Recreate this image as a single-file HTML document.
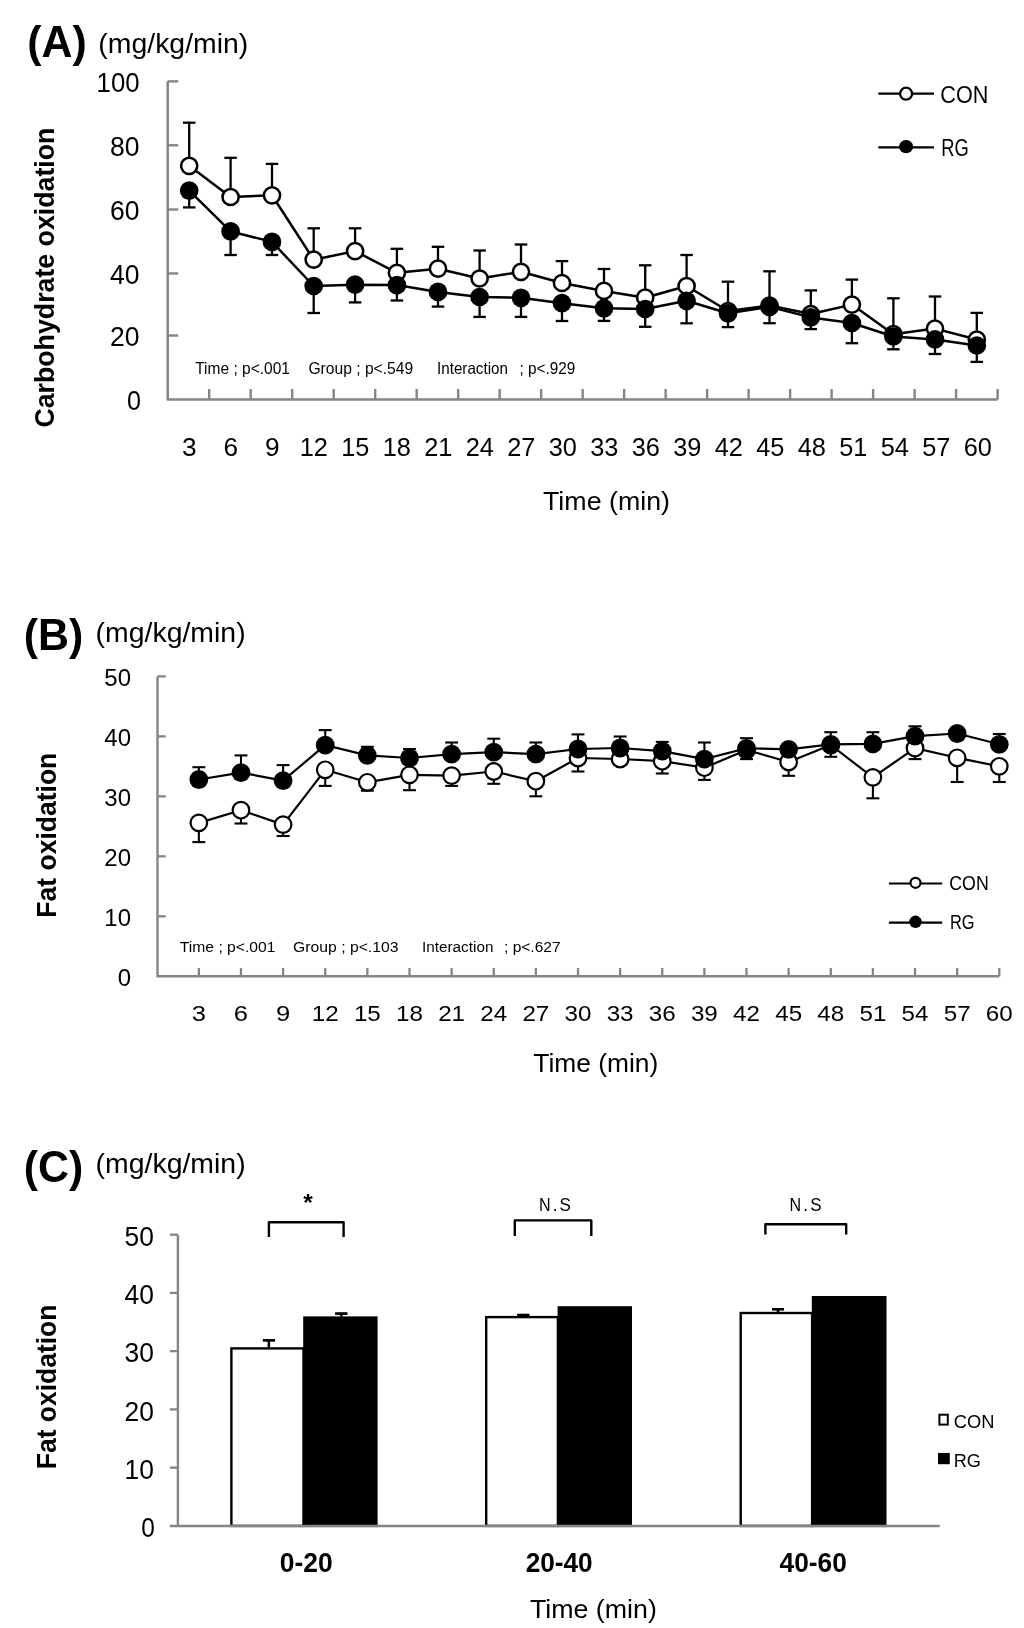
<!DOCTYPE html>
<html><head><meta charset="utf-8"><style>
html,body{margin:0;padding:0;background:#fff;}
body{width:1024px;height:1628px;overflow:hidden;}
svg{display:block;will-change:transform;}
text{font-family:"Liberation Sans", sans-serif;fill:#000;}
</style></head><body>
<svg width="1024" height="1628" viewBox="0 0 1024 1628">
<rect x="0" y="0" width="1024" height="1628" fill="#fff"/>
<text x="27.3" y="56.8" font-size="43.5" font-weight="bold" textLength="59.5" lengthAdjust="spacingAndGlyphs">(A)</text>
<text x="98.3" y="53.4" font-size="27.5" textLength="150" lengthAdjust="spacingAndGlyphs">(mg/kg/min)</text>
<polyline points="167.7,81.2 167.7,399.5 997.6,399.5" fill="none" stroke="#858585" stroke-width="2.5" stroke-linejoin="round"/>
<text x="141" y="409.75" font-size="27.3" text-anchor="end" textLength="14" lengthAdjust="spacingAndGlyphs">0</text>
<line x1="167.7" y1="335.5" x2="178.2" y2="335.5" stroke="#858585" stroke-width="2.4" stroke-linecap="butt"/>
<text x="139.6" y="345.8" font-size="27.3" text-anchor="end" textLength="29.5" lengthAdjust="spacingAndGlyphs">20</text>
<line x1="167.7" y1="273.45" x2="178.2" y2="273.45" stroke="#858585" stroke-width="2.4" stroke-linecap="butt"/>
<text x="139.6" y="283.75" font-size="27.3" text-anchor="end" textLength="29.5" lengthAdjust="spacingAndGlyphs">40</text>
<line x1="167.7" y1="209.5" x2="178.2" y2="209.5" stroke="#858585" stroke-width="2.4" stroke-linecap="butt"/>
<text x="139.6" y="219.8" font-size="27.3" text-anchor="end" textLength="29.5" lengthAdjust="spacingAndGlyphs">60</text>
<line x1="167.7" y1="145.25" x2="178.2" y2="145.25" stroke="#858585" stroke-width="2.4" stroke-linecap="butt"/>
<text x="139.6" y="155.55" font-size="27.3" text-anchor="end" textLength="29.5" lengthAdjust="spacingAndGlyphs">80</text>
<line x1="167.7" y1="81.4" x2="178.2" y2="81.4" stroke="#858585" stroke-width="2.4" stroke-linecap="butt"/>
<text x="139.6" y="91.7" font-size="27.3" text-anchor="end" textLength="43.0" lengthAdjust="spacingAndGlyphs">100</text>
<line x1="209.195" y1="399.5" x2="209.195" y2="389.0" stroke="#858585" stroke-width="2.4" stroke-linecap="butt"/>
<line x1="250.69" y1="399.5" x2="250.69" y2="389.0" stroke="#858585" stroke-width="2.4" stroke-linecap="butt"/>
<line x1="292.18499999999995" y1="399.5" x2="292.18499999999995" y2="389.0" stroke="#858585" stroke-width="2.4" stroke-linecap="butt"/>
<line x1="333.67999999999995" y1="399.5" x2="333.67999999999995" y2="389.0" stroke="#858585" stroke-width="2.4" stroke-linecap="butt"/>
<line x1="375.17499999999995" y1="399.5" x2="375.17499999999995" y2="389.0" stroke="#858585" stroke-width="2.4" stroke-linecap="butt"/>
<line x1="416.66999999999996" y1="399.5" x2="416.66999999999996" y2="389.0" stroke="#858585" stroke-width="2.4" stroke-linecap="butt"/>
<line x1="458.16499999999996" y1="399.5" x2="458.16499999999996" y2="389.0" stroke="#858585" stroke-width="2.4" stroke-linecap="butt"/>
<line x1="499.65999999999997" y1="399.5" x2="499.65999999999997" y2="389.0" stroke="#858585" stroke-width="2.4" stroke-linecap="butt"/>
<line x1="541.155" y1="399.5" x2="541.155" y2="389.0" stroke="#858585" stroke-width="2.4" stroke-linecap="butt"/>
<line x1="582.65" y1="399.5" x2="582.65" y2="389.0" stroke="#858585" stroke-width="2.4" stroke-linecap="butt"/>
<line x1="624.145" y1="399.5" x2="624.145" y2="389.0" stroke="#858585" stroke-width="2.4" stroke-linecap="butt"/>
<line x1="665.6399999999999" y1="399.5" x2="665.6399999999999" y2="389.0" stroke="#858585" stroke-width="2.4" stroke-linecap="butt"/>
<line x1="707.135" y1="399.5" x2="707.135" y2="389.0" stroke="#858585" stroke-width="2.4" stroke-linecap="butt"/>
<line x1="748.6299999999999" y1="399.5" x2="748.6299999999999" y2="389.0" stroke="#858585" stroke-width="2.4" stroke-linecap="butt"/>
<line x1="790.125" y1="399.5" x2="790.125" y2="389.0" stroke="#858585" stroke-width="2.4" stroke-linecap="butt"/>
<line x1="831.6199999999999" y1="399.5" x2="831.6199999999999" y2="389.0" stroke="#858585" stroke-width="2.4" stroke-linecap="butt"/>
<line x1="873.115" y1="399.5" x2="873.115" y2="389.0" stroke="#858585" stroke-width="2.4" stroke-linecap="butt"/>
<line x1="914.6099999999999" y1="399.5" x2="914.6099999999999" y2="389.0" stroke="#858585" stroke-width="2.4" stroke-linecap="butt"/>
<line x1="956.105" y1="399.5" x2="956.105" y2="389.0" stroke="#858585" stroke-width="2.4" stroke-linecap="butt"/>
<line x1="997.5999999999999" y1="399.5" x2="997.5999999999999" y2="389.0" stroke="#858585" stroke-width="2.4" stroke-linecap="butt"/>
<text x="189.3475" y="456.3" font-size="26.5" text-anchor="middle" textLength="14.6" lengthAdjust="spacingAndGlyphs">3</text>
<text x="230.8425" y="456.3" font-size="26.5" text-anchor="middle" textLength="14.6" lengthAdjust="spacingAndGlyphs">6</text>
<text x="272.3375" y="456.3" font-size="26.5" text-anchor="middle" textLength="14.6" lengthAdjust="spacingAndGlyphs">9</text>
<text x="313.8325" y="456.3" font-size="26.5" text-anchor="middle" textLength="28.2" lengthAdjust="spacingAndGlyphs">12</text>
<text x="355.3275" y="456.3" font-size="26.5" text-anchor="middle" textLength="28.2" lengthAdjust="spacingAndGlyphs">15</text>
<text x="396.8225" y="456.3" font-size="26.5" text-anchor="middle" textLength="28.2" lengthAdjust="spacingAndGlyphs">18</text>
<text x="438.31749999999994" y="456.3" font-size="26.5" text-anchor="middle" textLength="28.2" lengthAdjust="spacingAndGlyphs">21</text>
<text x="479.81249999999994" y="456.3" font-size="26.5" text-anchor="middle" textLength="28.2" lengthAdjust="spacingAndGlyphs">24</text>
<text x="521.3075" y="456.3" font-size="26.5" text-anchor="middle" textLength="28.2" lengthAdjust="spacingAndGlyphs">27</text>
<text x="562.8024999999999" y="456.3" font-size="26.5" text-anchor="middle" textLength="28.2" lengthAdjust="spacingAndGlyphs">30</text>
<text x="604.2975" y="456.3" font-size="26.5" text-anchor="middle" textLength="28.2" lengthAdjust="spacingAndGlyphs">33</text>
<text x="645.7924999999999" y="456.3" font-size="26.5" text-anchor="middle" textLength="28.2" lengthAdjust="spacingAndGlyphs">36</text>
<text x="687.2875" y="456.3" font-size="26.5" text-anchor="middle" textLength="28.2" lengthAdjust="spacingAndGlyphs">39</text>
<text x="728.7824999999999" y="456.3" font-size="26.5" text-anchor="middle" textLength="28.2" lengthAdjust="spacingAndGlyphs">42</text>
<text x="770.2775" y="456.3" font-size="26.5" text-anchor="middle" textLength="28.2" lengthAdjust="spacingAndGlyphs">45</text>
<text x="811.7724999999999" y="456.3" font-size="26.5" text-anchor="middle" textLength="28.2" lengthAdjust="spacingAndGlyphs">48</text>
<text x="853.2674999999998" y="456.3" font-size="26.5" text-anchor="middle" textLength="28.2" lengthAdjust="spacingAndGlyphs">51</text>
<text x="894.7624999999999" y="456.3" font-size="26.5" text-anchor="middle" textLength="28.2" lengthAdjust="spacingAndGlyphs">54</text>
<text x="936.2574999999998" y="456.3" font-size="26.5" text-anchor="middle" textLength="28.2" lengthAdjust="spacingAndGlyphs">57</text>
<text x="977.7524999999999" y="456.3" font-size="26.5" text-anchor="middle" textLength="28.2" lengthAdjust="spacingAndGlyphs">60</text>
<text x="543" y="509.7" font-size="26" textLength="127" lengthAdjust="spacingAndGlyphs">Time (min)</text>
<text transform="translate(54.4,427.6) rotate(-90)" font-size="27.5" font-weight="bold" textLength="300" lengthAdjust="spacingAndGlyphs">Carbohydrate  oxidation</text>
<text x="195.2" y="374.1" font-size="16.5" textLength="94.7" lengthAdjust="spacingAndGlyphs">Time ; p&lt;.001</text>
<text x="308.4" y="374.1" font-size="16.5" textLength="104.8" lengthAdjust="spacingAndGlyphs">Group ; p&lt;.549</text>
<text x="437" y="374.1" font-size="16.5" textLength="70.9" lengthAdjust="spacingAndGlyphs">Interaction</text>
<text x="519.6" y="374.1" font-size="16.5" textLength="55.7" lengthAdjust="spacingAndGlyphs">; p&lt;.929</text>
<polyline points="189.2,165.8 230.6,197 272,195.3 313.7,259.7 355.1,251.1 396.9,272.8 438,268.7 479.6,278.5 521,271.8 562,283 604,290.9 645.2,297.7 686.6,286 728,311 769.5,305.5 810.8,314 851.9,304.6 893.4,334.2 935,328.6 976.8,339.5" fill="none" stroke="#000" stroke-width="2.5" stroke-linejoin="round"/>
<line x1="189.2" y1="165.8" x2="189.2" y2="122.7" stroke="#000" stroke-width="2.3" stroke-linecap="butt"/>
<line x1="182.95" y1="122.7" x2="195.45" y2="122.7" stroke="#000" stroke-width="2.3" stroke-linecap="butt"/>
<line x1="230.6" y1="197" x2="230.6" y2="157.8" stroke="#000" stroke-width="2.3" stroke-linecap="butt"/>
<line x1="224.35" y1="157.8" x2="236.85" y2="157.8" stroke="#000" stroke-width="2.3" stroke-linecap="butt"/>
<line x1="272" y1="195.3" x2="272" y2="163.9" stroke="#000" stroke-width="2.3" stroke-linecap="butt"/>
<line x1="265.75" y1="163.9" x2="278.25" y2="163.9" stroke="#000" stroke-width="2.3" stroke-linecap="butt"/>
<line x1="313.7" y1="259.7" x2="313.7" y2="228.3" stroke="#000" stroke-width="2.3" stroke-linecap="butt"/>
<line x1="307.45" y1="228.3" x2="319.95" y2="228.3" stroke="#000" stroke-width="2.3" stroke-linecap="butt"/>
<line x1="355.1" y1="251.1" x2="355.1" y2="228.3" stroke="#000" stroke-width="2.3" stroke-linecap="butt"/>
<line x1="348.85" y1="228.3" x2="361.35" y2="228.3" stroke="#000" stroke-width="2.3" stroke-linecap="butt"/>
<line x1="396.9" y1="272.8" x2="396.9" y2="248.8" stroke="#000" stroke-width="2.3" stroke-linecap="butt"/>
<line x1="390.65" y1="248.8" x2="403.15" y2="248.8" stroke="#000" stroke-width="2.3" stroke-linecap="butt"/>
<line x1="438" y1="268.7" x2="438" y2="246.8" stroke="#000" stroke-width="2.3" stroke-linecap="butt"/>
<line x1="431.75" y1="246.8" x2="444.25" y2="246.8" stroke="#000" stroke-width="2.3" stroke-linecap="butt"/>
<line x1="479.6" y1="278.5" x2="479.6" y2="250.5" stroke="#000" stroke-width="2.3" stroke-linecap="butt"/>
<line x1="473.35" y1="250.5" x2="485.85" y2="250.5" stroke="#000" stroke-width="2.3" stroke-linecap="butt"/>
<line x1="521" y1="271.8" x2="521" y2="244.5" stroke="#000" stroke-width="2.3" stroke-linecap="butt"/>
<line x1="514.75" y1="244.5" x2="527.25" y2="244.5" stroke="#000" stroke-width="2.3" stroke-linecap="butt"/>
<line x1="562" y1="283" x2="562" y2="261.1" stroke="#000" stroke-width="2.3" stroke-linecap="butt"/>
<line x1="555.75" y1="261.1" x2="568.25" y2="261.1" stroke="#000" stroke-width="2.3" stroke-linecap="butt"/>
<line x1="604" y1="290.9" x2="604" y2="269" stroke="#000" stroke-width="2.3" stroke-linecap="butt"/>
<line x1="597.75" y1="269" x2="610.25" y2="269" stroke="#000" stroke-width="2.3" stroke-linecap="butt"/>
<line x1="645.2" y1="297.7" x2="645.2" y2="265.3" stroke="#000" stroke-width="2.3" stroke-linecap="butt"/>
<line x1="638.95" y1="265.3" x2="651.45" y2="265.3" stroke="#000" stroke-width="2.3" stroke-linecap="butt"/>
<line x1="686.6" y1="286" x2="686.6" y2="255" stroke="#000" stroke-width="2.3" stroke-linecap="butt"/>
<line x1="680.35" y1="255" x2="692.85" y2="255" stroke="#000" stroke-width="2.3" stroke-linecap="butt"/>
<line x1="728" y1="311" x2="728" y2="281.7" stroke="#000" stroke-width="2.3" stroke-linecap="butt"/>
<line x1="721.75" y1="281.7" x2="734.25" y2="281.7" stroke="#000" stroke-width="2.3" stroke-linecap="butt"/>
<line x1="769.5" y1="305.5" x2="769.5" y2="271.3" stroke="#000" stroke-width="2.3" stroke-linecap="butt"/>
<line x1="763.25" y1="271.3" x2="775.75" y2="271.3" stroke="#000" stroke-width="2.3" stroke-linecap="butt"/>
<line x1="810.8" y1="314" x2="810.8" y2="290.4" stroke="#000" stroke-width="2.3" stroke-linecap="butt"/>
<line x1="804.55" y1="290.4" x2="817.05" y2="290.4" stroke="#000" stroke-width="2.3" stroke-linecap="butt"/>
<line x1="851.9" y1="304.6" x2="851.9" y2="279.6" stroke="#000" stroke-width="2.3" stroke-linecap="butt"/>
<line x1="845.65" y1="279.6" x2="858.15" y2="279.6" stroke="#000" stroke-width="2.3" stroke-linecap="butt"/>
<line x1="893.4" y1="334.2" x2="893.4" y2="298.3" stroke="#000" stroke-width="2.3" stroke-linecap="butt"/>
<line x1="887.15" y1="298.3" x2="899.65" y2="298.3" stroke="#000" stroke-width="2.3" stroke-linecap="butt"/>
<line x1="935" y1="328.6" x2="935" y2="296.5" stroke="#000" stroke-width="2.3" stroke-linecap="butt"/>
<line x1="928.75" y1="296.5" x2="941.25" y2="296.5" stroke="#000" stroke-width="2.3" stroke-linecap="butt"/>
<line x1="976.8" y1="339.5" x2="976.8" y2="312.9" stroke="#000" stroke-width="2.3" stroke-linecap="butt"/>
<line x1="970.55" y1="312.9" x2="983.05" y2="312.9" stroke="#000" stroke-width="2.3" stroke-linecap="butt"/>
<circle cx="189.2" cy="165.8" r="8.1" fill="#fff" stroke="#000" stroke-width="2.5"/>
<circle cx="230.6" cy="197" r="8.1" fill="#fff" stroke="#000" stroke-width="2.5"/>
<circle cx="272" cy="195.3" r="8.1" fill="#fff" stroke="#000" stroke-width="2.5"/>
<circle cx="313.7" cy="259.7" r="8.1" fill="#fff" stroke="#000" stroke-width="2.5"/>
<circle cx="355.1" cy="251.1" r="8.1" fill="#fff" stroke="#000" stroke-width="2.5"/>
<circle cx="396.9" cy="272.8" r="8.1" fill="#fff" stroke="#000" stroke-width="2.5"/>
<circle cx="438" cy="268.7" r="8.1" fill="#fff" stroke="#000" stroke-width="2.5"/>
<circle cx="479.6" cy="278.5" r="8.1" fill="#fff" stroke="#000" stroke-width="2.5"/>
<circle cx="521" cy="271.8" r="8.1" fill="#fff" stroke="#000" stroke-width="2.5"/>
<circle cx="562" cy="283" r="8.1" fill="#fff" stroke="#000" stroke-width="2.5"/>
<circle cx="604" cy="290.9" r="8.1" fill="#fff" stroke="#000" stroke-width="2.5"/>
<circle cx="645.2" cy="297.7" r="8.1" fill="#fff" stroke="#000" stroke-width="2.5"/>
<circle cx="686.6" cy="286" r="8.1" fill="#fff" stroke="#000" stroke-width="2.5"/>
<circle cx="728" cy="311" r="8.1" fill="#fff" stroke="#000" stroke-width="2.5"/>
<circle cx="769.5" cy="305.5" r="8.1" fill="#fff" stroke="#000" stroke-width="2.5"/>
<circle cx="810.8" cy="314" r="8.1" fill="#fff" stroke="#000" stroke-width="2.5"/>
<circle cx="851.9" cy="304.6" r="8.1" fill="#fff" stroke="#000" stroke-width="2.5"/>
<circle cx="893.4" cy="334.2" r="8.1" fill="#fff" stroke="#000" stroke-width="2.5"/>
<circle cx="935" cy="328.6" r="8.1" fill="#fff" stroke="#000" stroke-width="2.5"/>
<circle cx="976.8" cy="339.5" r="8.1" fill="#fff" stroke="#000" stroke-width="2.5"/>
<polyline points="189.2,190.6 230.6,231.4 272,241.9 313.7,286 355.1,284.7 396.9,285.1 438,291.9 479.6,297 521,297.8 562,303.2 604,308.3 645.2,309 686.6,300.8 728,313.3 769.5,306.9 810.8,317.4 851.9,323 893.4,336.5 935,339.4 976.8,345.5" fill="none" stroke="#000" stroke-width="2.5" stroke-linejoin="round"/>
<line x1="189.2" y1="190.6" x2="189.2" y2="207.4" stroke="#000" stroke-width="2.3" stroke-linecap="butt"/>
<line x1="182.95" y1="207.4" x2="195.45" y2="207.4" stroke="#000" stroke-width="2.3" stroke-linecap="butt"/>
<line x1="230.6" y1="231.4" x2="230.6" y2="255" stroke="#000" stroke-width="2.3" stroke-linecap="butt"/>
<line x1="224.35" y1="255" x2="236.85" y2="255" stroke="#000" stroke-width="2.3" stroke-linecap="butt"/>
<line x1="272" y1="241.9" x2="272" y2="255" stroke="#000" stroke-width="2.3" stroke-linecap="butt"/>
<line x1="265.75" y1="255" x2="278.25" y2="255" stroke="#000" stroke-width="2.3" stroke-linecap="butt"/>
<line x1="313.7" y1="286" x2="313.7" y2="313" stroke="#000" stroke-width="2.3" stroke-linecap="butt"/>
<line x1="307.45" y1="313" x2="319.95" y2="313" stroke="#000" stroke-width="2.3" stroke-linecap="butt"/>
<line x1="355.1" y1="284.7" x2="355.1" y2="302.4" stroke="#000" stroke-width="2.3" stroke-linecap="butt"/>
<line x1="348.85" y1="302.4" x2="361.35" y2="302.4" stroke="#000" stroke-width="2.3" stroke-linecap="butt"/>
<line x1="396.9" y1="285.1" x2="396.9" y2="300.5" stroke="#000" stroke-width="2.3" stroke-linecap="butt"/>
<line x1="390.65" y1="300.5" x2="403.15" y2="300.5" stroke="#000" stroke-width="2.3" stroke-linecap="butt"/>
<line x1="438" y1="291.9" x2="438" y2="306.6" stroke="#000" stroke-width="2.3" stroke-linecap="butt"/>
<line x1="431.75" y1="306.6" x2="444.25" y2="306.6" stroke="#000" stroke-width="2.3" stroke-linecap="butt"/>
<line x1="479.6" y1="297" x2="479.6" y2="316.9" stroke="#000" stroke-width="2.3" stroke-linecap="butt"/>
<line x1="473.35" y1="316.9" x2="485.85" y2="316.9" stroke="#000" stroke-width="2.3" stroke-linecap="butt"/>
<line x1="521" y1="297.8" x2="521" y2="316.9" stroke="#000" stroke-width="2.3" stroke-linecap="butt"/>
<line x1="514.75" y1="316.9" x2="527.25" y2="316.9" stroke="#000" stroke-width="2.3" stroke-linecap="butt"/>
<line x1="562" y1="303.2" x2="562" y2="321" stroke="#000" stroke-width="2.3" stroke-linecap="butt"/>
<line x1="555.75" y1="321" x2="568.25" y2="321" stroke="#000" stroke-width="2.3" stroke-linecap="butt"/>
<line x1="604" y1="308.3" x2="604" y2="320.9" stroke="#000" stroke-width="2.3" stroke-linecap="butt"/>
<line x1="597.75" y1="320.9" x2="610.25" y2="320.9" stroke="#000" stroke-width="2.3" stroke-linecap="butt"/>
<line x1="645.2" y1="309" x2="645.2" y2="326.8" stroke="#000" stroke-width="2.3" stroke-linecap="butt"/>
<line x1="638.95" y1="326.8" x2="651.45" y2="326.8" stroke="#000" stroke-width="2.3" stroke-linecap="butt"/>
<line x1="686.6" y1="300.8" x2="686.6" y2="323.3" stroke="#000" stroke-width="2.3" stroke-linecap="butt"/>
<line x1="680.35" y1="323.3" x2="692.85" y2="323.3" stroke="#000" stroke-width="2.3" stroke-linecap="butt"/>
<line x1="728" y1="313.3" x2="728" y2="327.1" stroke="#000" stroke-width="2.3" stroke-linecap="butt"/>
<line x1="721.75" y1="327.1" x2="734.25" y2="327.1" stroke="#000" stroke-width="2.3" stroke-linecap="butt"/>
<line x1="769.5" y1="306.9" x2="769.5" y2="323.2" stroke="#000" stroke-width="2.3" stroke-linecap="butt"/>
<line x1="763.25" y1="323.2" x2="775.75" y2="323.2" stroke="#000" stroke-width="2.3" stroke-linecap="butt"/>
<line x1="810.8" y1="317.4" x2="810.8" y2="329.1" stroke="#000" stroke-width="2.3" stroke-linecap="butt"/>
<line x1="804.55" y1="329.1" x2="817.05" y2="329.1" stroke="#000" stroke-width="2.3" stroke-linecap="butt"/>
<line x1="851.9" y1="323" x2="851.9" y2="343.2" stroke="#000" stroke-width="2.3" stroke-linecap="butt"/>
<line x1="845.65" y1="343.2" x2="858.15" y2="343.2" stroke="#000" stroke-width="2.3" stroke-linecap="butt"/>
<line x1="893.4" y1="336.5" x2="893.4" y2="349.3" stroke="#000" stroke-width="2.3" stroke-linecap="butt"/>
<line x1="887.15" y1="349.3" x2="899.65" y2="349.3" stroke="#000" stroke-width="2.3" stroke-linecap="butt"/>
<line x1="935" y1="339.4" x2="935" y2="354" stroke="#000" stroke-width="2.3" stroke-linecap="butt"/>
<line x1="928.75" y1="354" x2="941.25" y2="354" stroke="#000" stroke-width="2.3" stroke-linecap="butt"/>
<line x1="976.8" y1="345.5" x2="976.8" y2="361.9" stroke="#000" stroke-width="2.3" stroke-linecap="butt"/>
<line x1="970.55" y1="361.9" x2="983.05" y2="361.9" stroke="#000" stroke-width="2.3" stroke-linecap="butt"/>
<circle cx="189.2" cy="190.6" r="9.35" fill="#000" stroke="#000" stroke-width="0"/>
<circle cx="230.6" cy="231.4" r="9.35" fill="#000" stroke="#000" stroke-width="0"/>
<circle cx="272" cy="241.9" r="9.35" fill="#000" stroke="#000" stroke-width="0"/>
<circle cx="313.7" cy="286" r="9.35" fill="#000" stroke="#000" stroke-width="0"/>
<circle cx="355.1" cy="284.7" r="9.35" fill="#000" stroke="#000" stroke-width="0"/>
<circle cx="396.9" cy="285.1" r="9.35" fill="#000" stroke="#000" stroke-width="0"/>
<circle cx="438" cy="291.9" r="9.35" fill="#000" stroke="#000" stroke-width="0"/>
<circle cx="479.6" cy="297" r="9.35" fill="#000" stroke="#000" stroke-width="0"/>
<circle cx="521" cy="297.8" r="9.35" fill="#000" stroke="#000" stroke-width="0"/>
<circle cx="562" cy="303.2" r="9.35" fill="#000" stroke="#000" stroke-width="0"/>
<circle cx="604" cy="308.3" r="9.35" fill="#000" stroke="#000" stroke-width="0"/>
<circle cx="645.2" cy="309" r="9.35" fill="#000" stroke="#000" stroke-width="0"/>
<circle cx="686.6" cy="300.8" r="9.35" fill="#000" stroke="#000" stroke-width="0"/>
<circle cx="728" cy="313.3" r="9.35" fill="#000" stroke="#000" stroke-width="0"/>
<circle cx="769.5" cy="306.9" r="9.35" fill="#000" stroke="#000" stroke-width="0"/>
<circle cx="810.8" cy="317.4" r="9.35" fill="#000" stroke="#000" stroke-width="0"/>
<circle cx="851.9" cy="323" r="9.35" fill="#000" stroke="#000" stroke-width="0"/>
<circle cx="893.4" cy="336.5" r="9.35" fill="#000" stroke="#000" stroke-width="0"/>
<circle cx="935" cy="339.4" r="9.35" fill="#000" stroke="#000" stroke-width="0"/>
<circle cx="976.8" cy="345.5" r="9.35" fill="#000" stroke="#000" stroke-width="0"/>
<line x1="878.3" y1="93.7" x2="934" y2="93.7" stroke="#000" stroke-width="2.3" stroke-linecap="butt"/>
<circle cx="906.1" cy="93.7" r="6" fill="#fff" stroke="#000" stroke-width="2.3"/>
<line x1="878.3" y1="147.4" x2="934" y2="147.4" stroke="#000" stroke-width="2.3" stroke-linecap="butt"/>
<ellipse cx="906.1" cy="146.6" rx="7.1" ry="6.6" fill="#000"/>
<text x="940.3" y="103.4" font-size="23" textLength="48" lengthAdjust="spacingAndGlyphs">CON</text>
<text x="941.3" y="155.7" font-size="23" textLength="27.5" lengthAdjust="spacingAndGlyphs">RG</text>
<text x="23.7" y="650.3" font-size="43.5" font-weight="bold" textLength="59.5" lengthAdjust="spacingAndGlyphs">(B)</text>
<text x="95.6" y="641.9" font-size="27.5" textLength="150" lengthAdjust="spacingAndGlyphs">(mg/kg/min)</text>
<polyline points="157.5,676.4 157.5,976.3 999.3,976.3" fill="none" stroke="#858585" stroke-width="2.4" stroke-linejoin="round"/>
<text x="131" y="985.5" font-size="24" text-anchor="end" textLength="13.35" lengthAdjust="spacingAndGlyphs">0</text>
<line x1="157.5" y1="916.3199999999999" x2="165.7" y2="916.3199999999999" stroke="#858585" stroke-width="2.3" stroke-linecap="butt"/>
<text x="131" y="925.52" font-size="24" text-anchor="end" textLength="26.7" lengthAdjust="spacingAndGlyphs">10</text>
<line x1="157.5" y1="856.3399999999999" x2="165.7" y2="856.3399999999999" stroke="#858585" stroke-width="2.3" stroke-linecap="butt"/>
<text x="131" y="865.54" font-size="24" text-anchor="end" textLength="26.7" lengthAdjust="spacingAndGlyphs">20</text>
<line x1="157.5" y1="796.3599999999999" x2="165.7" y2="796.3599999999999" stroke="#858585" stroke-width="2.3" stroke-linecap="butt"/>
<text x="131" y="805.56" font-size="24" text-anchor="end" textLength="26.7" lengthAdjust="spacingAndGlyphs">30</text>
<line x1="157.5" y1="736.38" x2="165.7" y2="736.38" stroke="#858585" stroke-width="2.3" stroke-linecap="butt"/>
<text x="131" y="745.58" font-size="24" text-anchor="end" textLength="26.7" lengthAdjust="spacingAndGlyphs">40</text>
<line x1="157.5" y1="676.4" x2="165.7" y2="676.4" stroke="#858585" stroke-width="2.3" stroke-linecap="butt"/>
<text x="131" y="685.6" font-size="24" text-anchor="end" textLength="26.7" lengthAdjust="spacingAndGlyphs">50</text>
<line x1="198.85" y1="976.3" x2="198.85" y2="968.0" stroke="#858585" stroke-width="2.3" stroke-linecap="butt"/>
<text x="198.85" y="1021.2" font-size="22.5" text-anchor="middle" textLength="14.2" lengthAdjust="spacingAndGlyphs">3</text>
<line x1="240.978" y1="976.3" x2="240.978" y2="968.0" stroke="#858585" stroke-width="2.3" stroke-linecap="butt"/>
<text x="240.978" y="1021.2" font-size="22.5" text-anchor="middle" textLength="14.2" lengthAdjust="spacingAndGlyphs">6</text>
<line x1="283.106" y1="976.3" x2="283.106" y2="968.0" stroke="#858585" stroke-width="2.3" stroke-linecap="butt"/>
<text x="283.106" y="1021.2" font-size="22.5" text-anchor="middle" textLength="14.2" lengthAdjust="spacingAndGlyphs">9</text>
<line x1="325.234" y1="976.3" x2="325.234" y2="968.0" stroke="#858585" stroke-width="2.3" stroke-linecap="butt"/>
<text x="325.234" y="1021.2" font-size="22.5" text-anchor="middle" textLength="26.9" lengthAdjust="spacingAndGlyphs">12</text>
<line x1="367.36199999999997" y1="976.3" x2="367.36199999999997" y2="968.0" stroke="#858585" stroke-width="2.3" stroke-linecap="butt"/>
<text x="367.36199999999997" y="1021.2" font-size="22.5" text-anchor="middle" textLength="26.9" lengthAdjust="spacingAndGlyphs">15</text>
<line x1="409.49" y1="976.3" x2="409.49" y2="968.0" stroke="#858585" stroke-width="2.3" stroke-linecap="butt"/>
<text x="409.49" y="1021.2" font-size="22.5" text-anchor="middle" textLength="26.9" lengthAdjust="spacingAndGlyphs">18</text>
<line x1="451.618" y1="976.3" x2="451.618" y2="968.0" stroke="#858585" stroke-width="2.3" stroke-linecap="butt"/>
<text x="451.618" y="1021.2" font-size="22.5" text-anchor="middle" textLength="26.9" lengthAdjust="spacingAndGlyphs">21</text>
<line x1="493.746" y1="976.3" x2="493.746" y2="968.0" stroke="#858585" stroke-width="2.3" stroke-linecap="butt"/>
<text x="493.746" y="1021.2" font-size="22.5" text-anchor="middle" textLength="26.9" lengthAdjust="spacingAndGlyphs">24</text>
<line x1="535.874" y1="976.3" x2="535.874" y2="968.0" stroke="#858585" stroke-width="2.3" stroke-linecap="butt"/>
<text x="535.874" y="1021.2" font-size="22.5" text-anchor="middle" textLength="26.9" lengthAdjust="spacingAndGlyphs">27</text>
<line x1="578.002" y1="976.3" x2="578.002" y2="968.0" stroke="#858585" stroke-width="2.3" stroke-linecap="butt"/>
<text x="578.002" y="1021.2" font-size="22.5" text-anchor="middle" textLength="26.9" lengthAdjust="spacingAndGlyphs">30</text>
<line x1="620.13" y1="976.3" x2="620.13" y2="968.0" stroke="#858585" stroke-width="2.3" stroke-linecap="butt"/>
<text x="620.13" y="1021.2" font-size="22.5" text-anchor="middle" textLength="26.9" lengthAdjust="spacingAndGlyphs">33</text>
<line x1="662.258" y1="976.3" x2="662.258" y2="968.0" stroke="#858585" stroke-width="2.3" stroke-linecap="butt"/>
<text x="662.258" y="1021.2" font-size="22.5" text-anchor="middle" textLength="26.9" lengthAdjust="spacingAndGlyphs">36</text>
<line x1="704.386" y1="976.3" x2="704.386" y2="968.0" stroke="#858585" stroke-width="2.3" stroke-linecap="butt"/>
<text x="704.386" y="1021.2" font-size="22.5" text-anchor="middle" textLength="26.9" lengthAdjust="spacingAndGlyphs">39</text>
<line x1="746.514" y1="976.3" x2="746.514" y2="968.0" stroke="#858585" stroke-width="2.3" stroke-linecap="butt"/>
<text x="746.514" y="1021.2" font-size="22.5" text-anchor="middle" textLength="26.9" lengthAdjust="spacingAndGlyphs">42</text>
<line x1="788.642" y1="976.3" x2="788.642" y2="968.0" stroke="#858585" stroke-width="2.3" stroke-linecap="butt"/>
<text x="788.642" y="1021.2" font-size="22.5" text-anchor="middle" textLength="26.9" lengthAdjust="spacingAndGlyphs">45</text>
<line x1="830.77" y1="976.3" x2="830.77" y2="968.0" stroke="#858585" stroke-width="2.3" stroke-linecap="butt"/>
<text x="830.77" y="1021.2" font-size="22.5" text-anchor="middle" textLength="26.9" lengthAdjust="spacingAndGlyphs">48</text>
<line x1="872.898" y1="976.3" x2="872.898" y2="968.0" stroke="#858585" stroke-width="2.3" stroke-linecap="butt"/>
<text x="872.898" y="1021.2" font-size="22.5" text-anchor="middle" textLength="26.9" lengthAdjust="spacingAndGlyphs">51</text>
<line x1="915.0260000000001" y1="976.3" x2="915.0260000000001" y2="968.0" stroke="#858585" stroke-width="2.3" stroke-linecap="butt"/>
<text x="915.0260000000001" y="1021.2" font-size="22.5" text-anchor="middle" textLength="26.9" lengthAdjust="spacingAndGlyphs">54</text>
<line x1="957.154" y1="976.3" x2="957.154" y2="968.0" stroke="#858585" stroke-width="2.3" stroke-linecap="butt"/>
<text x="957.154" y="1021.2" font-size="22.5" text-anchor="middle" textLength="26.9" lengthAdjust="spacingAndGlyphs">57</text>
<line x1="999.282" y1="976.3" x2="999.282" y2="968.0" stroke="#858585" stroke-width="2.3" stroke-linecap="butt"/>
<text x="999.282" y="1021.2" font-size="22.5" text-anchor="middle" textLength="26.9" lengthAdjust="spacingAndGlyphs">60</text>
<text x="533.3" y="1072" font-size="26" textLength="125" lengthAdjust="spacingAndGlyphs">Time (min)</text>
<text transform="translate(55.9,917.7) rotate(-90)" font-size="27" font-weight="bold" textLength="165" lengthAdjust="spacingAndGlyphs">Fat oxidation</text>
<text x="179.8" y="952.3" font-size="15.5" textLength="95.7" lengthAdjust="spacingAndGlyphs">Time ; p&lt;.001</text>
<text x="293" y="952.3" font-size="15.5" textLength="105.5" lengthAdjust="spacingAndGlyphs">Group ; p&lt;.103</text>
<text x="422" y="952.3" font-size="15.5" textLength="71.4" lengthAdjust="spacingAndGlyphs">Interaction</text>
<text x="504" y="952.3" font-size="15.5" textLength="56.6" lengthAdjust="spacingAndGlyphs">; p&lt;.627</text>
<polyline points="198.85,822.85 240.978,810.2 283.106,824.6 325.234,769.8 367.36199999999997,782.3 409.49,774.8 451.618,775.6 493.746,771.5 535.874,781.2 578.002,758 620.13,759 662.258,761.2 704.386,767.7 746.514,750 788.642,762 830.77,745 872.898,777.4 915.0260000000001,748.1 957.154,757.8 999.282,766.3" fill="none" stroke="#000" stroke-width="2.2" stroke-linejoin="round"/>
<line x1="198.85" y1="822.85" x2="198.85" y2="842.1" stroke="#000" stroke-width="2.1" stroke-linecap="butt"/>
<line x1="192.4" y1="842.1" x2="205.29999999999998" y2="842.1" stroke="#000" stroke-width="2.1" stroke-linecap="butt"/>
<line x1="240.978" y1="810.2" x2="240.978" y2="823.5" stroke="#000" stroke-width="2.1" stroke-linecap="butt"/>
<line x1="234.52800000000002" y1="823.5" x2="247.428" y2="823.5" stroke="#000" stroke-width="2.1" stroke-linecap="butt"/>
<line x1="283.106" y1="824.6" x2="283.106" y2="836" stroke="#000" stroke-width="2.1" stroke-linecap="butt"/>
<line x1="276.656" y1="836" x2="289.556" y2="836" stroke="#000" stroke-width="2.1" stroke-linecap="butt"/>
<line x1="325.234" y1="769.8" x2="325.234" y2="785.9" stroke="#000" stroke-width="2.1" stroke-linecap="butt"/>
<line x1="318.784" y1="785.9" x2="331.68399999999997" y2="785.9" stroke="#000" stroke-width="2.1" stroke-linecap="butt"/>
<line x1="367.36199999999997" y1="782.3" x2="367.36199999999997" y2="790.7" stroke="#000" stroke-width="2.1" stroke-linecap="butt"/>
<line x1="360.912" y1="790.7" x2="373.81199999999995" y2="790.7" stroke="#000" stroke-width="2.1" stroke-linecap="butt"/>
<line x1="409.49" y1="774.8" x2="409.49" y2="790.2" stroke="#000" stroke-width="2.1" stroke-linecap="butt"/>
<line x1="403.04" y1="790.2" x2="415.94" y2="790.2" stroke="#000" stroke-width="2.1" stroke-linecap="butt"/>
<line x1="451.618" y1="775.6" x2="451.618" y2="785.9" stroke="#000" stroke-width="2.1" stroke-linecap="butt"/>
<line x1="445.168" y1="785.9" x2="458.068" y2="785.9" stroke="#000" stroke-width="2.1" stroke-linecap="butt"/>
<line x1="493.746" y1="771.5" x2="493.746" y2="783.8" stroke="#000" stroke-width="2.1" stroke-linecap="butt"/>
<line x1="487.296" y1="783.8" x2="500.19599999999997" y2="783.8" stroke="#000" stroke-width="2.1" stroke-linecap="butt"/>
<line x1="535.874" y1="781.2" x2="535.874" y2="796.3" stroke="#000" stroke-width="2.1" stroke-linecap="butt"/>
<line x1="529.424" y1="796.3" x2="542.3240000000001" y2="796.3" stroke="#000" stroke-width="2.1" stroke-linecap="butt"/>
<line x1="578.002" y1="758" x2="578.002" y2="771.5" stroke="#000" stroke-width="2.1" stroke-linecap="butt"/>
<line x1="571.5519999999999" y1="771.5" x2="584.452" y2="771.5" stroke="#000" stroke-width="2.1" stroke-linecap="butt"/>
<line x1="620.13" y1="759" x2="620.13" y2="759" stroke="#000" stroke-width="2.1" stroke-linecap="butt"/>
<line x1="613.68" y1="759" x2="626.58" y2="759" stroke="#000" stroke-width="2.1" stroke-linecap="butt"/>
<line x1="662.258" y1="761.2" x2="662.258" y2="773.5" stroke="#000" stroke-width="2.1" stroke-linecap="butt"/>
<line x1="655.808" y1="773.5" x2="668.7080000000001" y2="773.5" stroke="#000" stroke-width="2.1" stroke-linecap="butt"/>
<line x1="704.386" y1="767.7" x2="704.386" y2="779.9" stroke="#000" stroke-width="2.1" stroke-linecap="butt"/>
<line x1="697.9359999999999" y1="779.9" x2="710.836" y2="779.9" stroke="#000" stroke-width="2.1" stroke-linecap="butt"/>
<line x1="746.514" y1="750" x2="746.514" y2="759.1" stroke="#000" stroke-width="2.1" stroke-linecap="butt"/>
<line x1="740.064" y1="759.1" x2="752.964" y2="759.1" stroke="#000" stroke-width="2.1" stroke-linecap="butt"/>
<line x1="788.642" y1="762" x2="788.642" y2="775.8" stroke="#000" stroke-width="2.1" stroke-linecap="butt"/>
<line x1="782.192" y1="775.8" x2="795.0920000000001" y2="775.8" stroke="#000" stroke-width="2.1" stroke-linecap="butt"/>
<line x1="830.77" y1="745" x2="830.77" y2="756.8" stroke="#000" stroke-width="2.1" stroke-linecap="butt"/>
<line x1="824.3199999999999" y1="756.8" x2="837.22" y2="756.8" stroke="#000" stroke-width="2.1" stroke-linecap="butt"/>
<line x1="872.898" y1="777.4" x2="872.898" y2="798.3" stroke="#000" stroke-width="2.1" stroke-linecap="butt"/>
<line x1="866.448" y1="798.3" x2="879.3480000000001" y2="798.3" stroke="#000" stroke-width="2.1" stroke-linecap="butt"/>
<line x1="915.0260000000001" y1="748.1" x2="915.0260000000001" y2="759.1" stroke="#000" stroke-width="2.1" stroke-linecap="butt"/>
<line x1="908.576" y1="759.1" x2="921.4760000000001" y2="759.1" stroke="#000" stroke-width="2.1" stroke-linecap="butt"/>
<line x1="957.154" y1="757.8" x2="957.154" y2="782" stroke="#000" stroke-width="2.1" stroke-linecap="butt"/>
<line x1="950.704" y1="782" x2="963.604" y2="782" stroke="#000" stroke-width="2.1" stroke-linecap="butt"/>
<line x1="999.282" y1="766.3" x2="999.282" y2="782" stroke="#000" stroke-width="2.1" stroke-linecap="butt"/>
<line x1="992.832" y1="782" x2="1005.7320000000001" y2="782" stroke="#000" stroke-width="2.1" stroke-linecap="butt"/>
<circle cx="198.85" cy="822.85" r="8.3" fill="#fff" stroke="#000" stroke-width="2.2"/>
<circle cx="240.978" cy="810.2" r="8.3" fill="#fff" stroke="#000" stroke-width="2.2"/>
<circle cx="283.106" cy="824.6" r="8.3" fill="#fff" stroke="#000" stroke-width="2.2"/>
<circle cx="325.234" cy="769.8" r="8.3" fill="#fff" stroke="#000" stroke-width="2.2"/>
<circle cx="367.36199999999997" cy="782.3" r="8.3" fill="#fff" stroke="#000" stroke-width="2.2"/>
<circle cx="409.49" cy="774.8" r="8.3" fill="#fff" stroke="#000" stroke-width="2.2"/>
<circle cx="451.618" cy="775.6" r="8.3" fill="#fff" stroke="#000" stroke-width="2.2"/>
<circle cx="493.746" cy="771.5" r="8.3" fill="#fff" stroke="#000" stroke-width="2.2"/>
<circle cx="535.874" cy="781.2" r="8.3" fill="#fff" stroke="#000" stroke-width="2.2"/>
<circle cx="578.002" cy="758" r="8.3" fill="#fff" stroke="#000" stroke-width="2.2"/>
<circle cx="620.13" cy="759" r="8.3" fill="#fff" stroke="#000" stroke-width="2.2"/>
<circle cx="662.258" cy="761.2" r="8.3" fill="#fff" stroke="#000" stroke-width="2.2"/>
<circle cx="704.386" cy="767.7" r="8.3" fill="#fff" stroke="#000" stroke-width="2.2"/>
<circle cx="746.514" cy="750" r="8.3" fill="#fff" stroke="#000" stroke-width="2.2"/>
<circle cx="788.642" cy="762" r="8.3" fill="#fff" stroke="#000" stroke-width="2.2"/>
<circle cx="830.77" cy="745" r="8.3" fill="#fff" stroke="#000" stroke-width="2.2"/>
<circle cx="872.898" cy="777.4" r="8.3" fill="#fff" stroke="#000" stroke-width="2.2"/>
<circle cx="915.0260000000001" cy="748.1" r="8.3" fill="#fff" stroke="#000" stroke-width="2.2"/>
<circle cx="957.154" cy="757.8" r="8.3" fill="#fff" stroke="#000" stroke-width="2.2"/>
<circle cx="999.282" cy="766.3" r="8.3" fill="#fff" stroke="#000" stroke-width="2.2"/>
<polyline points="198.85,779.5 240.978,772.6 283.106,780.6 325.234,745.1 367.36199999999997,755.4 409.49,758 451.618,754.1 493.746,752.2 535.874,754.1 578.002,749 620.13,748 662.258,751.1 704.386,759.1 746.514,748.3 788.642,749.3 830.77,744.4 872.898,743.9 915.0260000000001,736.2 957.154,733.5 999.282,744.3" fill="none" stroke="#000" stroke-width="2.2" stroke-linejoin="round"/>
<line x1="198.85" y1="779.5" x2="198.85" y2="767.2" stroke="#000" stroke-width="2.1" stroke-linecap="butt"/>
<line x1="192.4" y1="767.2" x2="205.29999999999998" y2="767.2" stroke="#000" stroke-width="2.1" stroke-linecap="butt"/>
<line x1="240.978" y1="772.6" x2="240.978" y2="755.4" stroke="#000" stroke-width="2.1" stroke-linecap="butt"/>
<line x1="234.52800000000002" y1="755.4" x2="247.428" y2="755.4" stroke="#000" stroke-width="2.1" stroke-linecap="butt"/>
<line x1="283.106" y1="780.6" x2="283.106" y2="765.1" stroke="#000" stroke-width="2.1" stroke-linecap="butt"/>
<line x1="276.656" y1="765.1" x2="289.556" y2="765.1" stroke="#000" stroke-width="2.1" stroke-linecap="butt"/>
<line x1="325.234" y1="745.1" x2="325.234" y2="730.1" stroke="#000" stroke-width="2.1" stroke-linecap="butt"/>
<line x1="318.784" y1="730.1" x2="331.68399999999997" y2="730.1" stroke="#000" stroke-width="2.1" stroke-linecap="butt"/>
<line x1="367.36199999999997" y1="755.4" x2="367.36199999999997" y2="746.8" stroke="#000" stroke-width="2.1" stroke-linecap="butt"/>
<line x1="360.912" y1="746.8" x2="373.81199999999995" y2="746.8" stroke="#000" stroke-width="2.1" stroke-linecap="butt"/>
<line x1="409.49" y1="758" x2="409.49" y2="749" stroke="#000" stroke-width="2.1" stroke-linecap="butt"/>
<line x1="403.04" y1="749" x2="415.94" y2="749" stroke="#000" stroke-width="2.1" stroke-linecap="butt"/>
<line x1="451.618" y1="754.1" x2="451.618" y2="742.5" stroke="#000" stroke-width="2.1" stroke-linecap="butt"/>
<line x1="445.168" y1="742.5" x2="458.068" y2="742.5" stroke="#000" stroke-width="2.1" stroke-linecap="butt"/>
<line x1="493.746" y1="752.2" x2="493.746" y2="738.7" stroke="#000" stroke-width="2.1" stroke-linecap="butt"/>
<line x1="487.296" y1="738.7" x2="500.19599999999997" y2="738.7" stroke="#000" stroke-width="2.1" stroke-linecap="butt"/>
<line x1="535.874" y1="754.1" x2="535.874" y2="742.5" stroke="#000" stroke-width="2.1" stroke-linecap="butt"/>
<line x1="529.424" y1="742.5" x2="542.3240000000001" y2="742.5" stroke="#000" stroke-width="2.1" stroke-linecap="butt"/>
<line x1="578.002" y1="749" x2="578.002" y2="734.4" stroke="#000" stroke-width="2.1" stroke-linecap="butt"/>
<line x1="571.5519999999999" y1="734.4" x2="584.452" y2="734.4" stroke="#000" stroke-width="2.1" stroke-linecap="butt"/>
<line x1="620.13" y1="748" x2="620.13" y2="736.5" stroke="#000" stroke-width="2.1" stroke-linecap="butt"/>
<line x1="613.68" y1="736.5" x2="626.58" y2="736.5" stroke="#000" stroke-width="2.1" stroke-linecap="butt"/>
<line x1="662.258" y1="751.1" x2="662.258" y2="741.9" stroke="#000" stroke-width="2.1" stroke-linecap="butt"/>
<line x1="655.808" y1="741.9" x2="668.7080000000001" y2="741.9" stroke="#000" stroke-width="2.1" stroke-linecap="butt"/>
<line x1="704.386" y1="759.1" x2="704.386" y2="742.5" stroke="#000" stroke-width="2.1" stroke-linecap="butt"/>
<line x1="697.9359999999999" y1="742.5" x2="710.836" y2="742.5" stroke="#000" stroke-width="2.1" stroke-linecap="butt"/>
<line x1="746.514" y1="748.3" x2="746.514" y2="738.2" stroke="#000" stroke-width="2.1" stroke-linecap="butt"/>
<line x1="740.064" y1="738.2" x2="752.964" y2="738.2" stroke="#000" stroke-width="2.1" stroke-linecap="butt"/>
<line x1="788.642" y1="749.3" x2="788.642" y2="749.3" stroke="#000" stroke-width="2.1" stroke-linecap="butt"/>
<line x1="782.192" y1="749.3" x2="795.0920000000001" y2="749.3" stroke="#000" stroke-width="2.1" stroke-linecap="butt"/>
<line x1="830.77" y1="744.4" x2="830.77" y2="732.2" stroke="#000" stroke-width="2.1" stroke-linecap="butt"/>
<line x1="824.3199999999999" y1="732.2" x2="837.22" y2="732.2" stroke="#000" stroke-width="2.1" stroke-linecap="butt"/>
<line x1="872.898" y1="743.9" x2="872.898" y2="732.2" stroke="#000" stroke-width="2.1" stroke-linecap="butt"/>
<line x1="866.448" y1="732.2" x2="879.3480000000001" y2="732.2" stroke="#000" stroke-width="2.1" stroke-linecap="butt"/>
<line x1="915.0260000000001" y1="736.2" x2="915.0260000000001" y2="726.3" stroke="#000" stroke-width="2.1" stroke-linecap="butt"/>
<line x1="908.576" y1="726.3" x2="921.4760000000001" y2="726.3" stroke="#000" stroke-width="2.1" stroke-linecap="butt"/>
<line x1="957.154" y1="733.5" x2="957.154" y2="733.5" stroke="#000" stroke-width="2.1" stroke-linecap="butt"/>
<line x1="950.704" y1="733.5" x2="963.604" y2="733.5" stroke="#000" stroke-width="2.1" stroke-linecap="butt"/>
<line x1="999.282" y1="744.3" x2="999.282" y2="734" stroke="#000" stroke-width="2.1" stroke-linecap="butt"/>
<line x1="992.832" y1="734" x2="1005.7320000000001" y2="734" stroke="#000" stroke-width="2.1" stroke-linecap="butt"/>
<circle cx="198.85" cy="779.5" r="9.4" fill="#000" stroke="#000" stroke-width="0"/>
<circle cx="240.978" cy="772.6" r="9.4" fill="#000" stroke="#000" stroke-width="0"/>
<circle cx="283.106" cy="780.6" r="9.4" fill="#000" stroke="#000" stroke-width="0"/>
<circle cx="325.234" cy="745.1" r="9.4" fill="#000" stroke="#000" stroke-width="0"/>
<circle cx="367.36199999999997" cy="755.4" r="9.4" fill="#000" stroke="#000" stroke-width="0"/>
<circle cx="409.49" cy="758" r="9.4" fill="#000" stroke="#000" stroke-width="0"/>
<circle cx="451.618" cy="754.1" r="9.4" fill="#000" stroke="#000" stroke-width="0"/>
<circle cx="493.746" cy="752.2" r="9.4" fill="#000" stroke="#000" stroke-width="0"/>
<circle cx="535.874" cy="754.1" r="9.4" fill="#000" stroke="#000" stroke-width="0"/>
<circle cx="578.002" cy="749" r="9.4" fill="#000" stroke="#000" stroke-width="0"/>
<circle cx="620.13" cy="748" r="9.4" fill="#000" stroke="#000" stroke-width="0"/>
<circle cx="662.258" cy="751.1" r="9.4" fill="#000" stroke="#000" stroke-width="0"/>
<circle cx="704.386" cy="759.1" r="9.4" fill="#000" stroke="#000" stroke-width="0"/>
<circle cx="746.514" cy="748.3" r="9.4" fill="#000" stroke="#000" stroke-width="0"/>
<circle cx="788.642" cy="749.3" r="9.4" fill="#000" stroke="#000" stroke-width="0"/>
<circle cx="830.77" cy="744.4" r="9.4" fill="#000" stroke="#000" stroke-width="0"/>
<circle cx="872.898" cy="743.9" r="9.4" fill="#000" stroke="#000" stroke-width="0"/>
<circle cx="915.0260000000001" cy="736.2" r="9.4" fill="#000" stroke="#000" stroke-width="0"/>
<circle cx="957.154" cy="733.5" r="9.4" fill="#000" stroke="#000" stroke-width="0"/>
<circle cx="999.282" cy="744.3" r="9.4" fill="#000" stroke="#000" stroke-width="0"/>
<line x1="888.9" y1="883.5" x2="942.2" y2="883.5" stroke="#000" stroke-width="2.2" stroke-linecap="butt"/>
<circle cx="915.5" cy="882.8" r="5" fill="#fff" stroke="#000" stroke-width="2.2"/>
<line x1="888.9" y1="922.6" x2="942.2" y2="922.6" stroke="#000" stroke-width="2.2" stroke-linecap="butt"/>
<circle cx="915.5" cy="921.8" r="6.2" fill="#000" stroke="#000" stroke-width="0"/>
<text x="949.3" y="889.8" font-size="20" textLength="39.4" lengthAdjust="spacingAndGlyphs">CON</text>
<text x="950" y="929" font-size="20" textLength="24.6" lengthAdjust="spacingAndGlyphs">RG</text>
<text x="23.7" y="1182" font-size="43.5" font-weight="bold" textLength="59.5" lengthAdjust="spacingAndGlyphs">(C)</text>
<text x="95.6" y="1173.4" font-size="27.5" textLength="150" lengthAdjust="spacingAndGlyphs">(mg/kg/min)</text>
<text x="154.8" y="1537.2" font-size="27.7" text-anchor="end" textLength="13.6" lengthAdjust="spacingAndGlyphs">0</text>
<line x1="170" y1="1467.66" x2="177.9" y2="1467.66" stroke="#858585" stroke-width="2.3" stroke-linecap="butt"/>
<text x="154" y="1478.96" font-size="27.7" text-anchor="end" textLength="29.4" lengthAdjust="spacingAndGlyphs">10</text>
<line x1="170" y1="1409.42" x2="177.9" y2="1409.42" stroke="#858585" stroke-width="2.3" stroke-linecap="butt"/>
<text x="154" y="1420.72" font-size="27.7" text-anchor="end" textLength="29.4" lengthAdjust="spacingAndGlyphs">20</text>
<line x1="170" y1="1351.18" x2="177.9" y2="1351.18" stroke="#858585" stroke-width="2.3" stroke-linecap="butt"/>
<text x="154" y="1362.48" font-size="27.7" text-anchor="end" textLength="29.4" lengthAdjust="spacingAndGlyphs">30</text>
<line x1="170" y1="1292.94" x2="177.9" y2="1292.94" stroke="#858585" stroke-width="2.3" stroke-linecap="butt"/>
<text x="154" y="1304.24" font-size="27.7" text-anchor="end" textLength="29.4" lengthAdjust="spacingAndGlyphs">40</text>
<line x1="170" y1="1234.7" x2="177.9" y2="1234.7" stroke="#858585" stroke-width="2.3" stroke-linecap="butt"/>
<text x="154" y="1246.0" font-size="27.7" text-anchor="end" textLength="29.4" lengthAdjust="spacingAndGlyphs">50</text>
<line x1="268.9" y1="1348.4" x2="268.9" y2="1340.3" stroke="#000" stroke-width="2.3" stroke-linecap="butt"/>
<line x1="262.9" y1="1340.3" x2="274.9" y2="1340.3" stroke="#000" stroke-width="2.3" stroke-linecap="butt"/>
<line x1="341.3" y1="1316.8" x2="341.3" y2="1313.6" stroke="#000" stroke-width="2.3" stroke-linecap="butt"/>
<line x1="335.3" y1="1313.6" x2="347.3" y2="1313.6" stroke="#000" stroke-width="2.3" stroke-linecap="butt"/>
<line x1="523.3" y1="1317.1" x2="523.3" y2="1315" stroke="#000" stroke-width="2.3" stroke-linecap="butt"/>
<line x1="517.3" y1="1315" x2="529.3" y2="1315" stroke="#000" stroke-width="2.3" stroke-linecap="butt"/>
<line x1="778" y1="1313" x2="778" y2="1309.2" stroke="#000" stroke-width="2.3" stroke-linecap="butt"/>
<line x1="772" y1="1309.2" x2="784" y2="1309.2" stroke="#000" stroke-width="2.3" stroke-linecap="butt"/>
<rect x="231.4" y="1348.4" width="72.1" height="177.5" fill="#fff" stroke="#000" stroke-width="2.4"/>
<rect x="304.4" y="1317.6" width="72.0" height="208.30000000000018" fill="#000" stroke="#000" stroke-width="2.4"/>
<rect x="486.2" y="1317.1" width="71.69999999999999" height="208.80000000000018" fill="#fff" stroke="#000" stroke-width="2.4"/>
<rect x="558.8" y="1307.4" width="72.0" height="218.5" fill="#000" stroke="#000" stroke-width="2.4"/>
<rect x="740.7" y="1313" width="71.39999999999998" height="212.9000000000001" fill="#fff" stroke="#000" stroke-width="2.4"/>
<rect x="813" y="1297.2" width="72.29999999999995" height="228.70000000000005" fill="#000" stroke="#000" stroke-width="2.4"/>
<line x1="268.9" y1="1347" x2="268.9" y2="1340.3" stroke="#000" stroke-width="2.3" stroke-linecap="butt"/>
<line x1="262.9" y1="1340.3" x2="274.9" y2="1340.3" stroke="#000" stroke-width="2.3" stroke-linecap="butt"/>
<line x1="341.3" y1="1315.6" x2="341.3" y2="1313.6" stroke="#000" stroke-width="2.3" stroke-linecap="butt"/>
<line x1="335.3" y1="1313.6" x2="347.3" y2="1313.6" stroke="#000" stroke-width="2.3" stroke-linecap="butt"/>
<line x1="523.3" y1="1316" x2="523.3" y2="1315" stroke="#000" stroke-width="2.3" stroke-linecap="butt"/>
<line x1="517.3" y1="1315" x2="529.3" y2="1315" stroke="#000" stroke-width="2.3" stroke-linecap="butt"/>
<line x1="778" y1="1312" x2="778" y2="1309.2" stroke="#000" stroke-width="2.3" stroke-linecap="butt"/>
<line x1="772" y1="1309.2" x2="784" y2="1309.2" stroke="#000" stroke-width="2.3" stroke-linecap="butt"/>
<polyline points="177.9,1234.7 177.9,1525.9" fill="none" stroke="#858585" stroke-width="2.4"/>
<line x1="169.7" y1="1525.9" x2="939.7" y2="1525.9" stroke="#858585" stroke-width="2.5" stroke-linecap="butt"/>
<polyline points="268.9,1237.1 268.9,1222.2 343.6,1222.2 343.6,1237.1" fill="none" stroke="#000" stroke-width="2.4" stroke-linejoin="round"/>
<polyline points="514.8,1235.9 514.8,1220.4 591.3,1220.4 591.3,1235.9" fill="none" stroke="#000" stroke-width="2.4" stroke-linejoin="round"/>
<polyline points="765.4,1234.4 765.4,1224.2 846.2,1224.2 846.2,1234.4" fill="none" stroke="#000" stroke-width="2.4" stroke-linejoin="round"/>
<text x="307.9" y="1211" font-size="24.5" text-anchor="middle" font-weight="bold">*</text>
<text x="544.6999999999999" y="1211.3" font-size="17.5" text-anchor="middle" textLength="11.6" lengthAdjust="spacingAndGlyphs">N</text>
<text x="555.1" y="1211.3" font-size="17.5" text-anchor="middle">.</text>
<text x="565.3" y="1211.3" font-size="17.5" text-anchor="middle" textLength="11.4" lengthAdjust="spacingAndGlyphs">S</text>
<text x="795.3" y="1211.4" font-size="17.5" text-anchor="middle" textLength="11.6" lengthAdjust="spacingAndGlyphs">N</text>
<text x="805.7" y="1211.4" font-size="17.5" text-anchor="middle">.</text>
<text x="815.9" y="1211.4" font-size="17.5" text-anchor="middle" textLength="11.4" lengthAdjust="spacingAndGlyphs">S</text>
<text x="306.2" y="1571.7" font-size="28" text-anchor="middle" font-weight="bold" textLength="53" lengthAdjust="spacingAndGlyphs">0-20</text>
<text x="559.2" y="1571.7" font-size="28" text-anchor="middle" font-weight="bold" textLength="67" lengthAdjust="spacingAndGlyphs">20-40</text>
<text x="813.2" y="1571.7" font-size="28" text-anchor="middle" font-weight="bold" textLength="67.3" lengthAdjust="spacingAndGlyphs">40-60</text>
<text x="529.9" y="1617.5" font-size="26" textLength="127" lengthAdjust="spacingAndGlyphs">Time (min)</text>
<text transform="translate(55.9,1469.2) rotate(-90)" font-size="27" font-weight="bold" textLength="164.6" lengthAdjust="spacingAndGlyphs">Fat oxidation</text>
<rect x="939.4" y="1414.7" width="8.4" height="9.9" fill="#fff" stroke="#000" stroke-width="2"/>
<rect x="938" y="1453" width="11.8" height="11.2" fill="#000"/>
<text x="953.75" y="1428.3" font-size="18" textLength="40.6" lengthAdjust="spacingAndGlyphs">CON</text>
<text x="953.75" y="1466.6" font-size="18" textLength="27.2" lengthAdjust="spacingAndGlyphs">RG</text>
</svg>
</body></html>
